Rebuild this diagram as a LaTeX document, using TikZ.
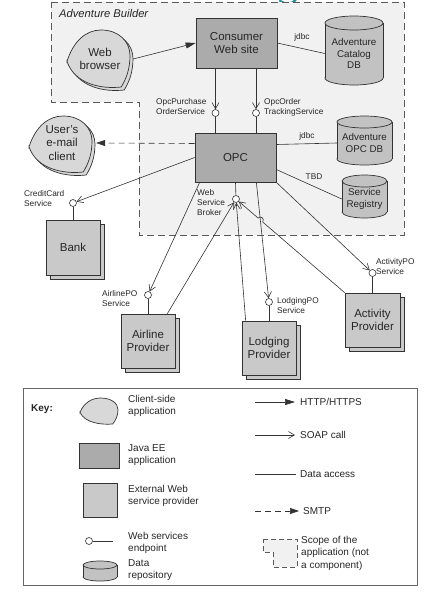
\documentclass[tikz,border=0pt]{standalone}
\usepackage{fontspec}
\setmainfont{Liberation Sans}
\usetikzlibrary{arrows.meta,calc,shadows,intersections}
\definecolor{scopebg}{HTML}{F1F1F1}
\definecolor{javagray}{HTML}{ABABAB}
\definecolor{provgray}{HTML}{C9C9C9}
\definecolor{dbgray}{HTML}{C2C2C2}
\definecolor{clientgray}{HTML}{D8D8D8}
\definecolor{linegray}{HTML}{333333}
\definecolor{textc}{HTML}{262626}
\definecolor{tealart}{HTML}{2E8A8C}
% cylinder: x0 y0 x1 y1 e
\newcommand\dbcyl[5]{%
  \filldraw[fill=dbgray,draw=linegray,line width=0.7pt] ({(#1+#3)/2},{#4-#5}) ellipse [x radius={(#3-#1)/2}, y radius=#5];
  \fill[dbgray] (#1,{#2+#5}) rectangle (#3,{#4-#5});
  \draw[linegray,line width=0.7pt] (#1,{#2+#5}) -- (#1,{#4-#5}) (#3,{#2+#5}) -- (#3,{#4-#5});
  \filldraw[fill=dbgray,draw=linegray,line width=0.7pt] ({(#1+#3)/2},{#2+#5}) ellipse [x radius={(#3-#1)/2}, y radius=#5];
}
% client-side blob: x y w h
\newcommand\clientblob[4]{%
  \filldraw[fill=clientgray, draw=linegray, line width=0.7pt, shift={(#1,#2)}, xscale=#3, yscale=#4]
    (0,0.55) .. controls (0.1,0.2) and (0.3,0) .. (0.54,0)
    .. controls (0.82,0) and (1,0.2) .. (1,0.45)
    .. controls (1,0.68) and (0.94,0.86) .. (0.86,1)
    .. controls (0.55,1.04) and (0.12,0.95) .. cycle;
}
\begin{document}
\begin{tikzpicture}[x=1pt,y=-1pt,
  ln/.style={draw=linegray, line width=0.6pt},
  http/.style={ln, -{Triangle[length=10pt,width=6pt]}},
  soap/.style={ln, -{Straight Barb[length=6pt,width=7pt]}},
  smtp/.style={ln, dash pattern=on 6pt off 4pt, -{Triangle[length=9pt,width=6pt]}},
  maintxt/.style={font=\fontsize{11.5}{13.5}\selectfont, text=textc, align=center},
  dbtxt/.style={font=\fontsize{9.8}{11.5}\selectfont, text=textc, align=center},
  lbl/.style={font=\fontsize{8.3}{10}\selectfont, text=textc, align=left, inner sep=1pt},
  keylbl/.style={font=\fontsize{10}{12.5}\selectfont, text=textc, align=left, inner sep=1pt, anchor=west},
  javaee/.style={maintxt, draw=linegray, line width=0.7pt, fill=javagray, minimum width=81, minimum height=50},
  provider/.style={maintxt, draw=linegray, line width=0.7pt, fill=provgray, minimum width=54, minimum height=54,
    copy shadow={shadow xshift=4pt, shadow yshift=-4pt}},
  ep/.style={circle, draw=linegray, line width=0.6pt, fill=white, inner sep=0pt, minimum size=7pt},
  scopeline/.style={draw=black!65, line width=0.8pt, dash pattern=on 7pt off 4pt, fill=scopebg},
]
\useasboundingbox (0,0) rectangle (432,606);

% stray artifact at top
\draw[tealart, line width=2.4pt, line cap=round] (280,1) .. controls (286,5) and (292,5) .. (296,-1);

% application scope
\path[scopeline] (51,2) -- (404,2) -- (404,235) -- (139,235) -- (139,102) -- (51,102) -- cycle;
\node[font=\itshape\fontsize{11.2}{13}\selectfont, text=textc, anchor=west, inner sep=0pt] (scopename) at (59,13) {Adventure Builder};

% client-side shapes
\clientblob{70}{33}{63}{57}
\clientblob{67}{30}{63}{57}
\node[maintxt, minimum width=66, minimum height=58] (wb) at (100,59) {Web\\browser};
\clientblob{32}{119}{63}{56}
\clientblob{29}{116}{63}{56}
\node[maintxt, minimum width=68, minimum height=56] (mail) at (62,143) {User's\\e-mail\\client};

% Java EE applications
\node[javaee] (cws) at (236.5,43) {Consumer\\Web site};
\node[javaee, minimum height=49] (opc) at (235.5,157.5) {OPC};

% data repositories
\dbcyl{325}{16}{383}{85}{7}
\node[dbtxt, minimum width=58, minimum height=64] (catdb) at (354,53.5) {Adventure\\Catalog\\DB};
\dbcyl{337}{116}{392}{165}{6}
\node[dbtxt, minimum width=55, minimum height=44] (opcdb) at (364.5,143) {Adventure\\OPC DB};
\dbcyl{342}{175}{387}{218}{6}
\node[dbtxt, minimum width=45, minimum height=38] (sreg) at (364.5,199) {Service\\Registry};

% external providers
\node[provider, minimum height=55] (bank) at (73,247.5) {Bank};
\node[provider] (air) at (148,341) {Airline\\Provider};
\node[provider] (lod) at (269,348) {Lodging\\Provider};
\node[provider, minimum width=55] (act) at (372.5,320) {Activity\\Provider};

% endpoints
\node[ep] (ops1) at (215.5,113) {};
\node[ep] (ops2) at (256,113) {};
\node[ep] (ccs) at (73,203) {};
\node[ep] (brk) at (236,199) {};
\node[ep] (apo) at (148,295) {};
\node[ep] (lpo) at (269,302) {};
\node[ep] (actpo) at (372.5,273) {};

% labels
\node[lbl, anchor=west] (lops1) at (155,107) {OpcPurchase\\OrderService};
\node[lbl, anchor=west] (lops2) at (263,107) {OpcOrder\\TrackingService};
\node[lbl] (ljdbc1) at (302,37) {jdbc};
\node[lbl] (ljdbc2) at (307,136) {jdbc};
\node[lbl] (ltbd) at (314,177) {TBD};
\node[lbl, anchor=west] (lccs) at (23,199) {CreditCard\\Service};
\node[lbl, anchor=west] (lbrk) at (196,203) {Web\\Service\\Broker};
\node[lbl, anchor=west] (lapo) at (101,299) {AirlinePO\\Service};
\node[lbl, anchor=west] (llpo) at (276,306) {LodgingPO\\Service};
\node[lbl, anchor=west] (lactpo) at (375,267) {ActivityPO\\Service};

% connectors
\draw[http] (wb.east) -- (cws.west);
\draw[ln] (cws.east) -- (catdb.west);
\draw[soap] (cws.south -| ops1) -- (ops1);
\draw[soap] (cws.south -| ops2) -- (ops2);
\draw[ln] (ops1) -- (ops1 |- opc.north);
\draw[ln] (ops2) -- (ops2 |- opc.north);
\draw[smtp] ([yshift=14pt]opc.west) -- (mail.east);
\draw[ln] ([yshift=13pt]opc.east) -- (opcdb.west);
\draw[ln] ([yshift=-12pt]opc.east) -- (sreg.west);
\draw[soap] (opc.west) -- (ccs);
\draw[ln] (ccs) -- (bank.north);
\draw[ln] (opc.south) -- (brk);
\draw[soap] ([xshift=5pt]opc.south west) -- (apo);
\draw[ln] (apo) -- (air.north);
\draw[soap] ([xshift=-20pt]opc.south east) -- (lpo);
\draw[ln] (lpo) -- (lpo |- lod.north);
\draw[soap] (opc.south east) -- (actpo);
\draw[ln] (actpo) -- (act.north);
\draw[soap] ([xshift=-8pt]air.north east) -- (brk);
\draw[soap] ([xshift=4pt]lod.north west) -- (brk);
\path[name path=hopA] (act.north west) -- (brk);
\path[name path=hopB] ([xshift=-20pt]opc.south east) -- (lpo);
\path[name intersections={of=hopA and hopB, by=hx}];
\draw[soap] let \p1=($(brk)-(act.north west)$), \n1={atan2(\y1,\x1)} in
  (act.north west) -- ($(hx)!3pt!(act.north west)$) arc[start angle=\n1-180, end angle=\n1, radius=3pt] -- (brk);

% ---------------- key ----------------
\draw[draw=black!60, line width=1pt] (23,388) rectangle (417,585);
\node[font=\bfseries\fontsize{10}{12}\selectfont, text=textc, anchor=west, inner sep=0pt] (keyt) at (31,409) {Key:};
\clientblob{80}{398}{38}{26}
\node[keylbl] (k1) at (127,406) {Client-side\\application};
\node[draw=linegray, line width=0.7pt, fill=javagray, minimum width=40, minimum height=25, inner sep=0pt] (kj) at (99,455.5) {};
\node[keylbl] (k2) at (127,455) {Java EE\\application};
\node[draw=linegray, line width=0.7pt, fill=provgray, minimum width=34, minimum height=34, inner sep=0pt] (kp) at (100,500) {};
\node[keylbl] (k3) at (127,496) {External Web\\service provider};
\node[ep] (ke) at (89,541) {};
\coordinate (kee) at (113,541);
\draw[ln] (ke) -- (kee);
\node[keylbl] (k4) at (127,543) {Web services\\endpoint};
\dbcyl{83}{561}{117}{581}{4}
\node[keylbl] (k5) at (127,570) {Data\\repository};

\coordinate (kh) at (255,402);
\node[keylbl] (k6) at (299,402) {HTTP/HTTPS};
\draw[http] (kh) -- ([xshift=-4pt]k6.west);
\coordinate (ks) at (255,435);
\node[keylbl] (k7) at (299,435) {SOAP call};
\draw[soap] (ks) -- ([xshift=-4pt]k7.west);
\coordinate (kd) at (255,474);
\node[keylbl] (k8) at (299,474) {Data access};
\draw[ln] (kd) -- ([xshift=-3pt]k8.west);
\coordinate (km) at (255,511);
\node[keylbl] (k9) at (302,511) {SMTP};
\draw[smtp] (km) -- ([xshift=-3pt]k9.west);
\path[draw=black!65, line width=0.7pt, dash pattern=on 5pt off 3pt, fill=scopebg]
  (263,539) -- (297,539) -- (297,567) -- (273,567) -- (273,552) -- (263,552) -- cycle;
\node[keylbl] (k10) at (300,553) {Scope of the\\application (not\\a component)};
\end{tikzpicture}
\end{document}
